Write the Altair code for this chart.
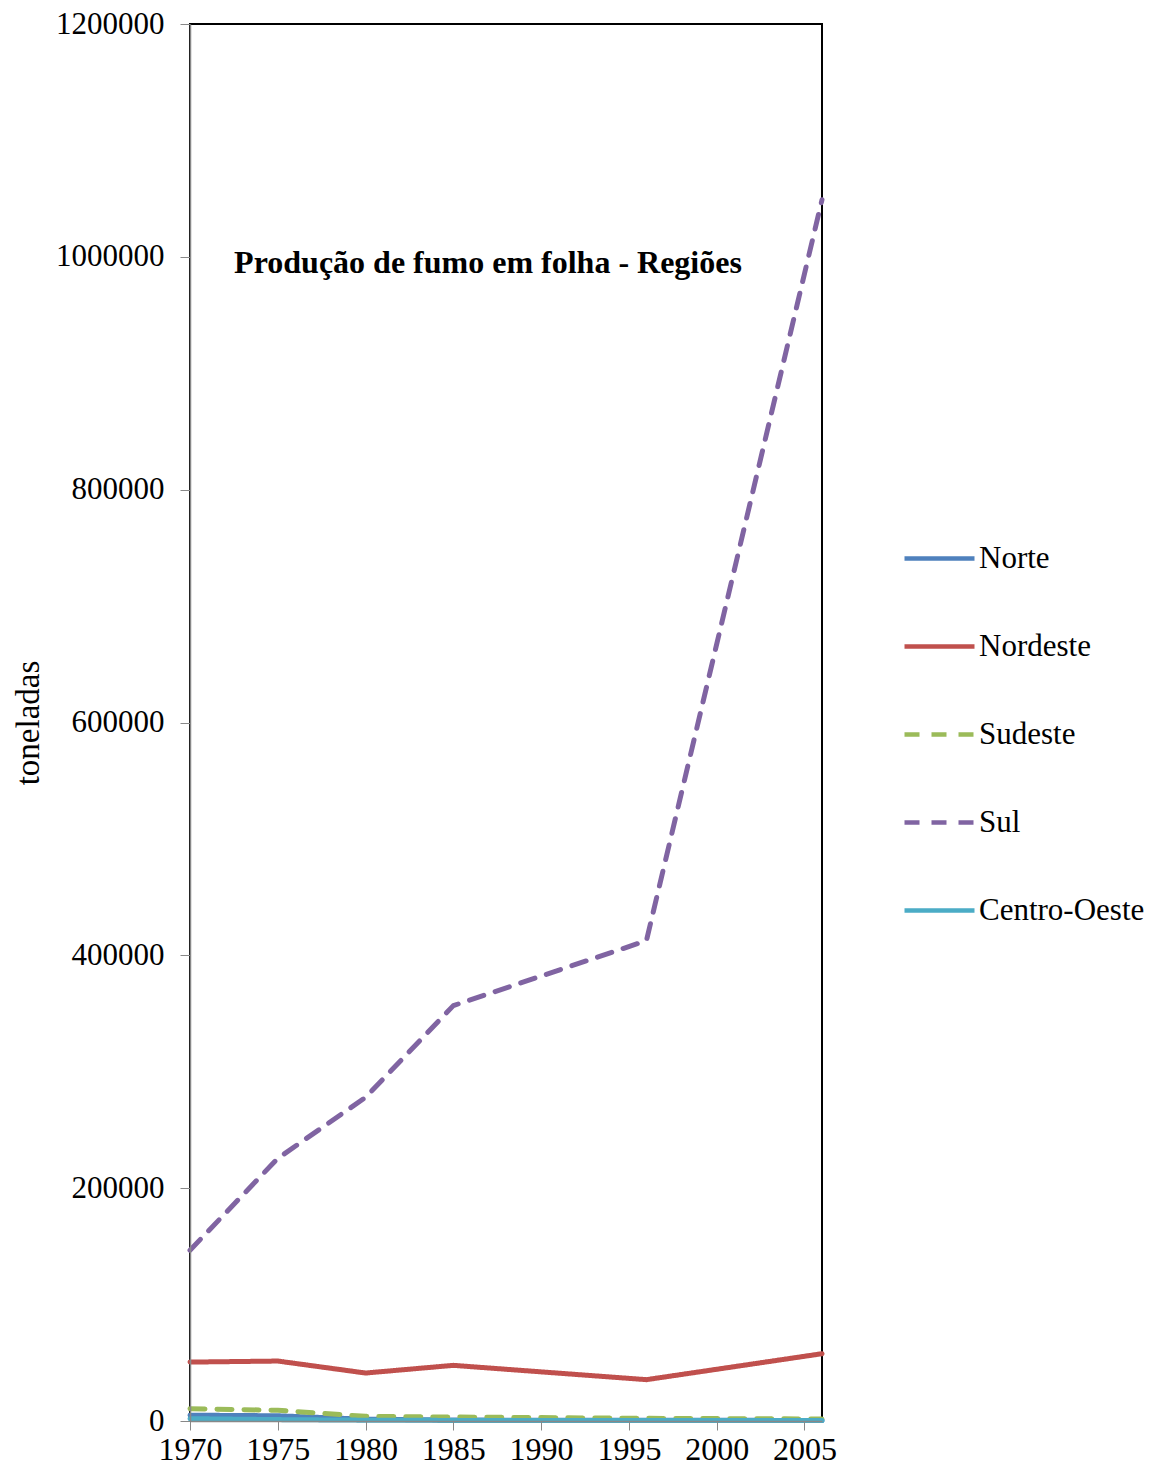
import altair as alt
import pandas as pd

years = [1970, 1975, 1980, 1985, 1996, 2006]
regions = ["Norte", "Nordeste", "Sudeste", "Sul", "Centro-Oeste"]
norte = [5000, 4500, 1500, 800, 600, 500]
nordeste = [50600, 51500, 41200, 47800, 35500, 57800]
sudeste = [10600, 9200, 4000, 3400, 2300, 1700]
sul = [146700, 225600, 278000, 356800, 412600, 1049000]
centro_oeste = [2000, 1200, 700, 500, 400, 400]
colors = ["#4F81BD", "#C0504D", "#9BBB59", "#8064A2", "#4BACC6"]
dashes = [[1, 0], [1, 0], [15, 12], [15, 12], [1, 0]]
y_ticks = [0, 200000, 400000, 600000, 800000, 1000000, 1200000]
x_ticks = [1970, 1975, 1980, 1985, 1990, 1995, 2000, 2005]
title_text = ["Produção de fumo em folha - Regiões"]

series = [norte, nordeste, sudeste, sul, centro_oeste]
rows = []
for k, (reg, vals) in enumerate(zip(regions, series)):
    for yr, v in zip(years, vals):
        rows.append({"ano": yr, "regiao": reg, "toneladas": v, "ordem": k})
df = pd.DataFrame(rows)

FONT = "Liberation Serif"

legend = alt.Legend(title=None, orient="none", legendX=712, legendY=497,
                    labelFont=FONT, labelFontSize=31, labelColor="black",
                    symbolType="stroke", symbolSize=4900, symbolStrokeWidth=4.5,
                    labelOffset=2, rowPadding=35, labelLimit=400)

lines = alt.Chart(df).mark_line(strokeWidth=5, strokeCap="round", strokeJoin="round").encode(
    x=alt.X("ano:Q", scale=alt.Scale(domain=[1970, 2006], nice=False, zero=False),
            axis=alt.Axis(values=x_ticks, format="d", title=None, labelFont=FONT, labelFontSize=32,
                          labelColor="black", domainColor="#888888", tickColor="#888888",
                          tickSize=9, labelPadding=4, grid=False, domainWidth=1.5, zindex=1,
                          labelFlush=False, labelOverlap=False)),
    y=alt.Y("toneladas:Q", scale=alt.Scale(domain=[0, 1200000], nice=False),
            axis=alt.Axis(values=y_ticks, format="d", title="toneladas", titleFont=FONT,
                          titleFontSize=33, titleFontWeight="normal", titleColor="black",
                          titlePadding=10, labelFont=FONT, labelFontSize=31, labelColor="black",
                          domainColor="#888888", tickColor="#888888", tickSize=10, labelPadding=16,
                          grid=False, domainWidth=1.5, zindex=1)),
    color=alt.Color("regiao:N", scale=alt.Scale(domain=regions, range=colors), legend=legend),
    strokeDash=alt.StrokeDash("regiao:N", scale=alt.Scale(domain=regions, range=dashes), legend=legend),
    order=alt.Order("ordem:Q"),
    detail="regiao:N",
)

title = alt.Chart(pd.DataFrame({"t": title_text})).mark_text(
    font=FONT, fontSize=32, fontWeight="bold", align="center", baseline="alphabetic", color="black"
).encode(text="t:N", x=alt.value(298), y=alt.value(249))

chart = alt.layer(lines, title).properties(
    width=632, height=1397,
    background="white",
    autosize=alt.AutoSizeParams(type="none"),
    padding={"left": 182, "top": 16, "right": 327, "bottom": 44},
).configure_view(stroke="#000000", strokeWidth=2)

chart.save("out.html", embed_options={"renderer": "svg", "actions": False})
